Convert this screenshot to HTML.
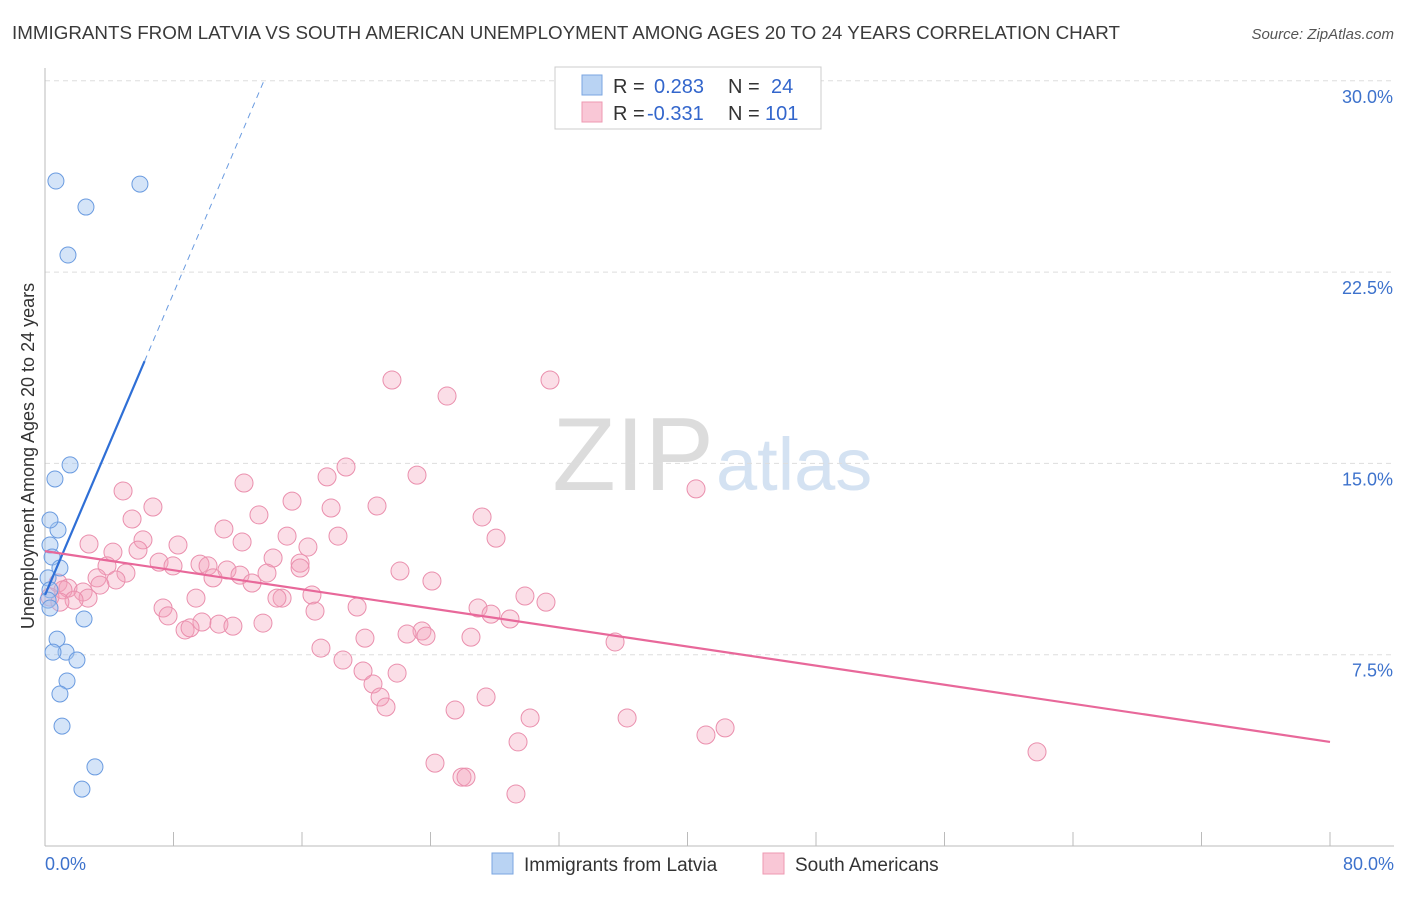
<!DOCTYPE html>
<html><head><meta charset="utf-8"><style>
body{margin:0;background:#fff;font-family:"Liberation Sans",sans-serif;}
svg text{font-family:"Liberation Sans",sans-serif;}
</style></head><body>
<svg id="c" width="1406" height="892">
<text x="12" y="39" font-size="18.8" fill="#3a3a3a">IMMIGRANTS FROM LATVIA VS SOUTH AMERICAN UNEMPLOYMENT AMONG AGES 20 TO 24 YEARS CORRELATION CHART</text>
<text x="1394" y="39" font-size="15" fill="#555" font-style="italic" text-anchor="end">Source: ZipAtlas.com</text>
<text x="714" y="490" font-size="104" fill="#dcdcdc" font-family="Liberation Serif" text-anchor="end">ZIP</text>
<text x="716" y="490" font-size="74" fill="#d4e2f2">atlas</text>
<text transform="translate(34,456) rotate(-90)" font-size="18" fill="#333" text-anchor="middle">Unemployment Among Ages 20 to 24 years</text>
<g id="grid"></g><g id="pts"></g><g id="lines"></g>
<g>
<rect x="555" y="67" width="266" height="62" fill="#fff" stroke="#ccc"/>
<rect x="582" y="75" width="20" height="20" fill="#b9d3f3" stroke="#7aa6e0"/>
<rect x="582" y="102" width="20" height="20" fill="#f9c7d6" stroke="#ee98b2"/>
<text x="613" y="93" font-size="20" fill="#333">R =</text>
<text x="654" y="93" font-size="20" fill="#3366cc">0.283</text>
<text x="728" y="93" font-size="20" fill="#333">N =</text>
<text x="771" y="93" font-size="20" fill="#3366cc">24</text>
<text x="613" y="120" font-size="20" fill="#333">R =</text>
<text x="647" y="120" font-size="20" fill="#3366cc">-0.331</text>
<text x="728" y="120" font-size="20" fill="#333">N =</text>
<text x="765" y="120" font-size="20" fill="#3366cc">101</text>
</g>
<g>
<rect x="492" y="853" width="21" height="21" fill="#b9d3f3" stroke="#7aa6e0"/>
<text x="524" y="871" font-size="19" fill="#333">Immigrants from Latvia</text>
<rect x="763" y="853" width="21" height="21" fill="#f9c7d6" stroke="#ee98b2"/>
<text x="795" y="871" font-size="19" fill="#333">South Americans</text>
</g>
</svg>
<script>
const yTicks=[7.5,15,22.5,30];
const yTickLabels=["7.5%","15.0%","22.5%","30.0%"];
const xTickLabels=["0.0%","80.0%"];
const latviaX=[0.68,5.91,2.55,1.43,1.56,0.62,0.81,0.31,0.31,0.44,0.93,0.19,0.31,0.19,0.31,2.43,0.75,1.31,0.50,1.99,1.37,0.93,1.06,3.11,2.30];
const latviaY=[26.07,25.95,25.05,23.17,14.94,14.39,12.39,12.78,11.80,11.33,10.90,10.51,10.04,9.64,9.33,8.90,8.11,7.60,7.60,7.29,6.47,5.96,4.70,3.10,2.23];
const southX=[21.60,31.44,25.03,18.74,17.56,23.16,12.39,4.86,40.53,15.38,6.72,20.67,17.81,5.42,13.32,27.21,11.14,18.24,15.07,28.08,2.74,8.28,12.27,6.10,5.79,4.23,16.37,14.20,9.65,7.10,7.97,10.15,3.86,11.33,5.04,15.88,15.88,12.14,13.82,22.10,10.46,24.09,3.24,4.42,12.89,0.81,3.42,1.43,2.37,1.12,2.68,0.31,1.81,0.93,9.40,14.76,14.44,16.62,29.88,31.19,19.43,7.35,26.96,16.81,27.77,28.95,7.66,9.77,10.83,11.70,13.57,8.72,9.03,23.47,22.54,23.72,19.92,26.52,35.49,17.18,18.55,19.80,21.92,20.42,27.46,20.86,21.23,25.53,30.20,36.24,42.34,41.15,29.45,61.76,24.28,25.96,26.21,29.32];
const southY=[18.27,18.27,17.64,14.86,14.47,14.54,14.23,13.92,14.00,13.52,13.29,13.33,13.25,12.82,12.98,12.90,12.43,12.15,12.15,12.07,11.84,11.80,11.92,12.00,11.60,11.52,11.72,11.29,11.05,11.13,10.98,10.98,10.98,10.82,10.70,11.09,10.90,10.62,10.70,10.78,10.51,10.39,10.51,10.43,10.31,10.31,10.23,10.11,9.96,10.04,9.72,9.76,9.64,9.56,9.72,9.72,9.72,9.84,9.80,9.56,9.37,9.33,9.33,9.21,9.09,8.90,9.02,8.78,8.70,8.62,8.74,8.47,8.55,8.43,8.31,8.23,8.15,8.19,8.00,7.76,7.29,6.86,6.78,6.35,5.84,5.84,5.45,5.33,5.02,5.02,4.63,4.35,4.08,3.69,3.25,2.70,2.70,2.04];
const latviaTrend=[9.84,1.479];
const southTrend=[11.56,4.08];
const NS="http://www.w3.org/2000/svg";
const X=v=>45+v/80*1285, Y=v=>846-v/7.5*191.3;
function mk(t,a,p){const e=document.createElementNS(NS,t);for(const k in a)e.setAttribute(k,a[k]);p.appendChild(e);return e;}
const grid=document.getElementById('grid');
yTicks.forEach((t,i)=>{
 const l=mk('line',{x1:45,x2:1394,y1:Y(t),y2:Y(t),stroke:'#ddd','stroke-dasharray':'5,4'},grid);
 
 
 const tx=mk('text',{x:1393,y:Y(t)+22,'font-size':18,fill:'#3d72cc','text-anchor':'end'},grid);
 tx.textContent=yTickLabels[i];
 
 
});
const ax=mk('line',{x1:45,x2:45,y1:68,y2:846,stroke:'#bbb'},grid);


const bx=mk('line',{x1:45,x2:1394,y1:846,y2:846,stroke:'#bbb'},grid);


for(let i=1;i<=10;i++){const t=mk('line',{x1:X(i*8),x2:X(i*8),y1:832,y2:846,stroke:'#bbb'},grid);
 
 }
[[0,'start',45],[80,'end',1394]].forEach((d,i)=>{const t=mk('text',{x:d[2],y:870,'font-size':18,fill:'#3d72cc','text-anchor':d[1]},grid);t.textContent=xTickLabels[i];
 
 });
const pts=document.getElementById('pts');
southX.forEach((x,i)=>{const c=mk('circle',{cx:X(x),cy:Y(southY[i]),r:9,fill:'rgba(244,160,187,0.35)',stroke:'#ea8fad','stroke-width':1},pts);
 
 });
latviaX.forEach((x,i)=>{const c=mk('circle',{cx:X(x),cy:Y(latviaY[i]),r:8,fill:'rgba(160,195,240,0.45)',stroke:'#6a9be0','stroke-width':1},pts);
 
 });
const lines=document.getElementById('lines');
const lb=v=>latviaTrend[0]+latviaTrend[1]*v;
const s1=mk('line',{x1:X(0),y1:Y(lb(0)),x2:X(6.2),y2:Y(lb(6.2)),stroke:'#2f6fd6','stroke-width':2.2},lines);


const xe=(30-latviaTrend[0])/latviaTrend[1];
const s2=mk('line',{x1:X(6.2),y1:Y(lb(6.2)),x2:X(xe),y2:Y(30),stroke:'#6a9be0','stroke-width':1,'stroke-dasharray':'6,5'},lines);


const s3=mk('line',{x1:X(0),y1:Y(southTrend[0]),x2:X(80),y2:Y(southTrend[1]),stroke:'#e8689a','stroke-width':2.2},lines);


</script>
</body></html>
